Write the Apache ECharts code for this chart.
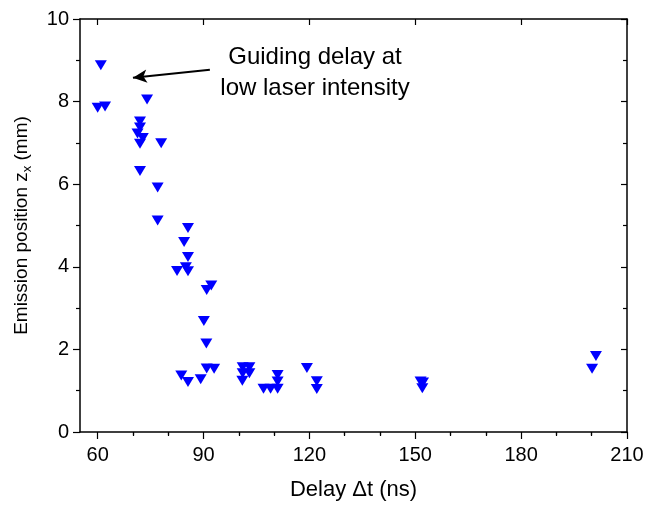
<!DOCTYPE html>
<html><head><meta charset="utf-8">
<script src="https://cdn.jsdelivr.net/npm/echarts@6/dist/echarts.min.js"></script>
<style>html,body{margin:0;padding:0;background:#fff}#c{width:663px;height:506px}</style>
</head><body><div id="c"></div>
<script>
const delay = [60.9,60.0,62.1,74.0,72.0,72.0,71.3,72.8,72.0,78.0,72.0,77.0,77.0,85.6,84.5,85.6,85.0,82.5,85.6,92.2,90.9,90.1,90.8,90.9,93.0,83.7,85.6,89.2,101.1,103.0,101.1,103.0,101.0,111.0,111.0,107.0,109.0,111.0,119.3,122.1,122.1,151.5,152.2,152.0,200.1,201.2];
const position = [8.88,7.85,7.88,8.05,7.52,7.37,7.23,7.12,6.98,6.99,6.32,5.92,5.12,4.94,4.60,4.24,3.99,3.90,3.89,3.55,3.44,2.69,2.14,1.54,1.53,1.37,1.21,1.28,1.57,1.57,1.42,1.42,1.24,1.38,1.22,1.05,1.05,1.05,1.55,1.23,1.04,1.22,1.20,1.06,1.53,1.84];
const xMajor = [60,90,120,150,180,210];
const xMinor = [70,80,100,110,130,140,160,170,190,200];
const arrowFrom = [91.8, 8.77];
const arrowTo = [70.0, 8.58];
const noteLines = ['Guiding delay at', 'low laser intensity'];

const font = 'Liberation Sans, Arial, sans-serif';
const chart = echarts.init(document.getElementById('c'));
const black = '#000';
const baseX = {type:'value', min:55, max:210, splitLine:{show:false}};
chart.setOption({
  animation:false,
  grid:{left:80, right:36, top:19, bottom:72},
  xAxis:[
    Object.assign({}, baseX, {position:'bottom',
      axisLine:{show:true, onZero:false, lineStyle:{color:black, width:1.5}},
      axisTick:{show:true, customValues:xMajor, length:7, inside:false, lineStyle:{color:black, width:1.2}},
      axisLabel:{customValues:xMajor, color:black, fontSize:20, fontFamily:font, margin:13},
      name:'Delay \u0394t (ns)', nameLocation:'middle', nameGap:47,
      nameTextStyle:{color:black, fontSize:22, fontFamily:font}}),
    Object.assign({}, baseX, {position:'bottom',
      axisLine:{show:false},
      axisTick:{show:true, customValues:xMinor, length:4, inside:false, lineStyle:{color:black, width:1.2}},
      axisLabel:{show:false}}),
    Object.assign({}, baseX, {position:'top',
      axisLine:{show:true, onZero:false, lineStyle:{color:black, width:1.5}},
      axisTick:{show:true, customValues:xMajor, length:6, inside:true, lineStyle:{color:black, width:1.2}},
      axisLabel:{show:false}}),
    Object.assign({}, baseX, {position:'top',
      axisLine:{show:false},
      axisTick:{show:true, customValues:xMinor, length:3, inside:true, lineStyle:{color:black, width:1.2}},
      axisLabel:{show:false}})
  ],
  yAxis:[
    {type:'value', min:0, max:10, interval:2, position:'left', splitLine:{show:false},
      axisLine:{show:true, onZero:false, lineStyle:{color:black, width:1.5}},
      axisTick:{show:true, length:7, inside:false, lineStyle:{color:black, width:1.2}},
      minorTick:{show:true, splitNumber:2, length:4, lineStyle:{color:black, width:1.2}},
      axisLabel:{color:black, fontSize:20, fontFamily:font, margin:11},
      name:'{n|Emission position z}{s|x}{n| (mm)}', nameLocation:'middle', nameGap:46,
      nameTextStyle:{color:black, fontSize:19, fontFamily:font,
        rich:{n:{fontSize:19, fontFamily:font, color:black, lineHeight:24, verticalAlign:'middle'},
              s:{fontSize:13, fontFamily:font, color:black, lineHeight:24, verticalAlign:'bottom', padding:[10,0,0,0]}}}},
    {type:'value', min:0, max:10, interval:2, position:'right', splitLine:{show:false},
      axisLine:{show:true, onZero:false, lineStyle:{color:black, width:1.5}},
      axisTick:{show:true, length:6, inside:true, lineStyle:{color:black, width:1.2}},
      minorTick:{show:true, splitNumber:2, length:4, lineStyle:{color:black, width:1.2}},
      axisLabel:{show:false}}
  ],
  series:[{
    type:'scatter', xAxisIndex:0, yAxisIndex:0,
    data: delay.map((d,i)=>[d, position[i]]),
    symbol:'triangle', symbolRotate:180, symbolSize:[12,10],
    itemStyle:{color:'#0000ff', opacity:1},
    markLine:{silent:true, symbol:['none','arrow'], symbolSize:[10,14],
      label:{show:false},
      lineStyle:{color:black, width:2, type:'solid'},
      data:[[{coord:arrowFrom},{coord:arrowTo}]]}
  }],
  graphic:[{type:'text', x:315, y:42,
    style:{text:noteLines.join('\n'), font:'24px '+font, fill:black, align:'center', lineHeight:31}}]
});
</script></body></html>
